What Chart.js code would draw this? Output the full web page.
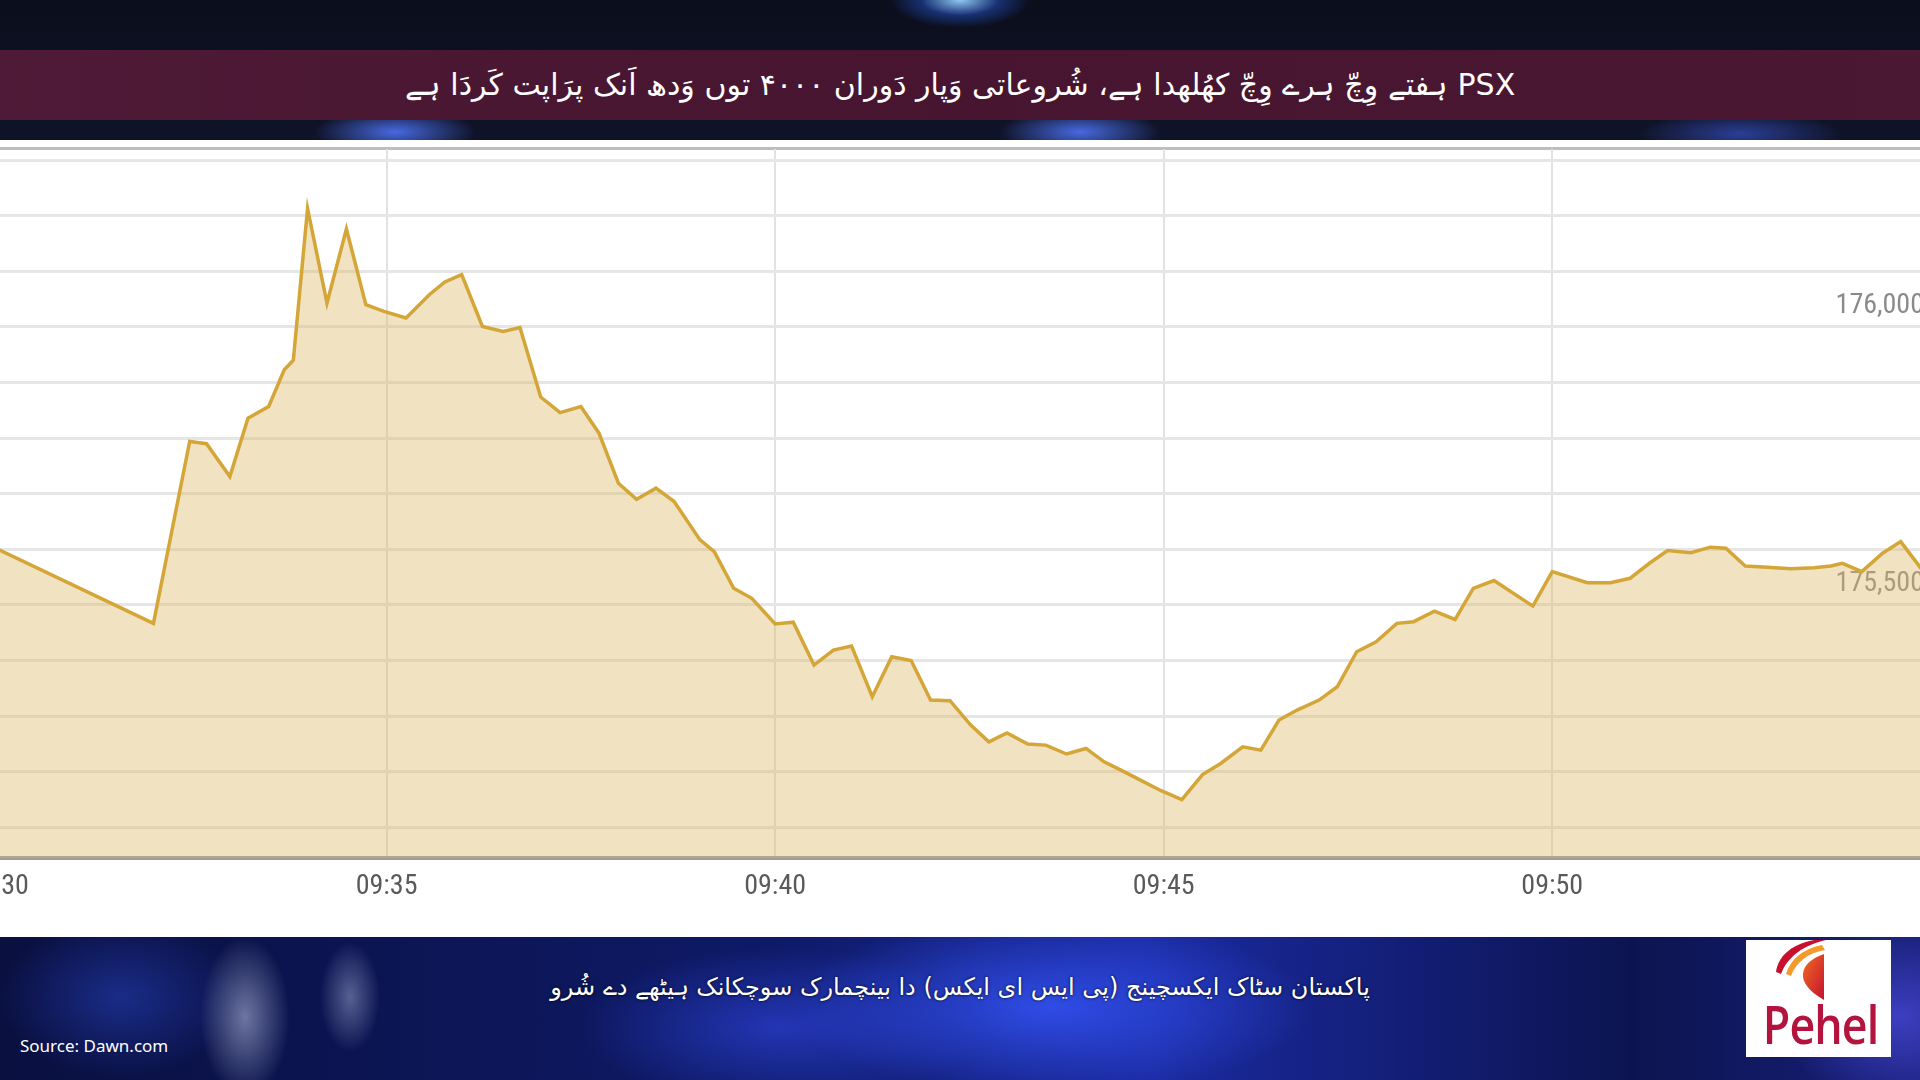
<!DOCTYPE html>
<html>
<head>
<meta charset="utf-8">
<script src="https://cdn.jsdelivr.net/npm/chart.js@4.4.0/dist/chart.umd.min.js"></script>
<style>
  html, body { margin: 0; padding: 0; }
  body {
    width: 1920px; height: 1080px; position: relative; overflow: hidden;
    background: #0b0e1c; font-family: 'Noto Sans', sans-serif;
  }
  #topbg {
    position: absolute; left: 0; top: 0; width: 1920px; height: 140px;
    background:
      radial-gradient(ellipse 70px 28px at 960px 0px, rgba(150,210,255,0.95), rgba(40,90,220,0.45) 55%, rgba(0,0,0,0) 100%),
      radial-gradient(ellipse 80px 24px at 395px 132px, rgba(80,120,255,0.85), rgba(0,0,0,0) 100%),
      radial-gradient(ellipse 80px 24px at 1080px 132px, rgba(80,120,255,0.85), rgba(0,0,0,0) 100%),
      radial-gradient(ellipse 100px 24px at 1740px 134px, rgba(60,90,220,0.6), rgba(0,0,0,0) 100%),
      linear-gradient(#0b0e1b, #10142a);
  }
  #band {
    position: absolute; left: 0; top: 50px; width: 1920px; height: 70px;
    background: linear-gradient(90deg, #4e1a37, #47152f 50%, #4b1834);
    color: #fff; font-family: 'DejaVu Sans', sans-serif; font-size: 30px;
    text-align: center; line-height: 70px;
  }
  #panel { position: absolute; left: 0; top: 140px; width: 1920px; height: 797px; background: #fff; }
  #topline { position: absolute; left: 0; top: 147px; width: 1920px; height: 3px; background: #bdbdbd; }
  #wrap { position: absolute; left: -2px; top: 149px; width: 1926px; height: 769px; }
  #bottom {
    position: absolute; left: 0; top: 937px; width: 1920px; height: 143px;
    background:
      radial-gradient(ellipse 45px 80px at 245px 80px, rgba(190,200,230,0.55), rgba(0,0,0,0) 100%),
      radial-gradient(ellipse 30px 55px at 350px 60px, rgba(180,190,225,0.45), rgba(0,0,0,0) 100%),
      radial-gradient(ellipse 260px 90px at 1050px 70px, rgba(50,80,240,0.9), rgba(0,0,0,0) 100%),
      radial-gradient(ellipse 200px 80px at 780px 90px, rgba(40,60,200,0.8), rgba(0,0,0,0) 100%),
      radial-gradient(ellipse 120px 90px at 1900px 80px, rgba(70,70,210,0.8), rgba(0,0,0,0) 100%),
      radial-gradient(ellipse 120px 80px at 120px 60px, rgba(40,70,200,0.5), rgba(0,0,0,0) 100%),
      linear-gradient(90deg, #0a1040, #0e1a66 40%, #1a2aa0 60%, #0c1450 85%, #18207a);
  }
  #bottomtext {
    position: absolute; left: 0; top: 937px; width: 1920px; height: 100px;
    color: #fff; font-family: 'DejaVu Sans', sans-serif; font-size: 24px;
    text-align: center; line-height: 100px; text-shadow: 0 0 3px #000;
  }
  #source {
    position: absolute; left: 20px; top: 1034px; color: #fff;
    font-family: 'Noto Sans', sans-serif; font-size: 17px;
  }
  #logo { position: absolute; left: 1746px; top: 940px; width: 145px; height: 117px; background: #fff; }
  #logo .word {
    position: absolute; left: 8px; top: 48px; width: 125px; text-align: center;
    font-family: 'Open Sans', sans-serif; font-weight: 600; font-size: 52px; color: #b3133d;
    transform: scaleX(0.86); letter-spacing: -1px;
  }
</style>
</head>
<body>
<div id="topbg"></div>
<div id="band" dir="rtl">PSX ہفتے وِچّ ہرے وِچّ کھُلھدا ہے، شُروعاتی وَپار دَوران ۴۰۰۰ توں وَدھ اَنک پرَاپت کَردَا ہے</div>
<div id="panel"></div>
<div id="topline"></div>
<div id="wrap"><canvas id="kse" width="1926" height="769"></canvas></div>
<div id="bottom"></div>
<div id="bottomtext" dir="rtl">پاکستان سٹاک ایکسچینج (پی ایس ای ایکس) دا بینچمارک سوچکانک ہیٹھے دے شُرو</div>
<div id="source">Source: Dawn.com</div>
<div id="logo">
  <svg width="145" height="60" style="position:absolute;left:0;top:0">
    <defs>
      <linearGradient id="fl" x1="0" y1="0" x2="1" y2="1">
        <stop offset="0" stop-color="#f26b21"/>
        <stop offset="1" stop-color="#c41230"/>
      </linearGradient>
    </defs>
    <path d="M30 32 C32 16 46 4 68 0 L80 0 C58 5 42 16 35 34 Z" fill="#c8102e"/>
    <path d="M40 34 C44 20 56 9 76 5 L79 10 C62 13 50 22 45 36 Z" fill="#f39a2b"/>
    <path d="M78 14 C54 22 46 42 78 60 Z" fill="url(#fl)"/>
  </svg>
  <div class="word">Pehel</div>
</div>
<script>
// KSE-100 intraday (PSX), 09:30 - 09:55
const times = [
  '09:30:00', '09:32:00', '09:32:28', '09:32:41', '09:32:59', '09:33:13', '09:33:29', '09:33:41',
  '09:33:48', '09:33:59', '09:34:14', '09:34:29', '09:34:44', '09:34:58', '09:35:15', '09:35:33',
  '09:35:45', '09:35:58', '09:36:14', '09:36:30', '09:36:43', '09:36:59', '09:37:14', '09:37:30',
  '09:37:44', '09:37:59', '09:38:13', '09:38:28', '09:38:42', '09:39:02', '09:39:13', '09:39:28',
  '09:39:42', '09:40:00', '09:40:14', '09:40:30', '09:40:45', '09:40:59', '09:41:15', '09:41:30',
  '09:41:45', '09:42:00', '09:42:15', '09:42:31', '09:42:45', '09:42:59', '09:43:15', '09:43:29',
  '09:43:45', '09:44:00', '09:44:14', '09:44:27', '09:44:42', '09:44:58', '09:45:14', '09:45:30',
  '09:45:44', '09:46:01', '09:46:15', '09:46:29', '09:46:43', '09:47:00', '09:47:14', '09:47:29',
  '09:47:44', '09:48:00', '09:48:13', '09:48:29', '09:48:45', '09:48:59', '09:49:15', '09:49:45',
  '09:50:00', '09:50:27', '09:50:45', '09:51:00', '09:51:15', '09:51:29', '09:51:47', '09:52:02',
  '09:52:14', '09:52:29', '09:52:46', '09:53:04', '09:53:22', '09:53:35', '09:53:44', '09:53:59',
  '09:54:15', '09:54:29', '09:54:45'
];
const values = [
  175600, 175467, 175794, 175790, 175731, 175836, 175857, 175923,
  175940, 176213, 176043, 176176, 176040, 176028, 176016, 176058,
  176081, 176094, 176001, 175992, 175999, 175874, 175846, 175857,
  175809, 175719, 175690, 175710, 175686, 175617, 175596, 175530,
  175512, 175466, 175469, 175392, 175419, 175426, 175335, 175407,
  175400, 175329, 175328, 175284, 175254, 175270, 175250, 175248,
  175232, 175242, 175218, 175203, 175185, 175166, 175150, 175195,
  175215, 175245, 175239, 175293, 175311, 175329, 175353, 175416,
  175434, 175467, 175470, 175489, 175474, 175530, 175544, 175498,
  175560, 175540, 175540, 175548, 175575, 175598, 175594, 175604,
  175602, 175570, 175568, 175565, 175567, 175570, 175575, 175560,
  175593, 175614, 175565
];
const xTickLabels = ['09:30', '09:35', '09:40', '09:45', '09:50'];
const yTickLabels = [175500, 176000];
const yGridStep = 100;

// seconds after 09:30:00
function toSec(t) {
  const [h, m, s] = t.split(':').map(Number);
  return (h - 9) * 3600 + (m - 30) * 60 + s;
}

const points = times.map((t, i) => ({ x: toSec(t), y: values[i] }));
const labelFont = { family: "'Liberation Sans Narrow', 'Roboto Condensed', Roboto, sans-serif", size: 28 };

const ctx = document.getElementById('kse').getContext('2d');
new Chart(ctx, {
  type: 'line',
  data: {
    datasets: [{
      data: points,
      borderColor: '#d4a638',
      borderWidth: 3.5,
      backgroundColor: 'rgba(220, 183, 100, 0.4)',
      fill: 'start',
      tension: 0,
      pointRadius: 0,
    }],
  },
  options: {
    responsive: false,
    animation: false,
    layout: { padding: 0 },
    plugins: {
      legend: { display: false },
      tooltip: { enabled: false },
    },
    scales: {
      x: {
        type: 'linear',
        bounds: 'data',
        min: 0,
        max: 1487,
        afterBuildTicks: (scale) => {
          scale.ticks = xTickLabels.map((_, i) => ({ value: i * 300 }));
        },
        afterFit: (scale) => {
          scale.paddingLeft = 0;
          scale.paddingRight = 0;
          scale.height = 60;
        },
        ticks: {
          autoSkip: false,
          maxRotation: 0,
          padding: 12,
          color: '#5a5a5a',
          font: labelFont,
          callback: (v) => xTickLabels[Math.round(v / 300)] || '',
        },
        grid: { color: '#e2e2e2', lineWidth: 2, drawTicks: false },
        border: { display: true, color: '#9c9c9c', width: 4 },
      },
      y: {
        position: 'right',
        bounds: 'data',
        min: 175045,
        max: 176320,
        afterBuildTicks: (scale) => {
          const ticks = [];
          for (let v = Math.ceil(scale.min / yGridStep) * yGridStep; v < scale.max; v += yGridStep) {
            ticks.push({ value: v });
          }
          scale.ticks = ticks;
        },
        afterFit: (scale) => {
          scale.paddingTop = 0;
          scale.paddingBottom = 0;
          scale.width = 0;
        },
        ticks: {
          mirror: true,
          padding: 0,
          labelOffset: -21,
          color: '#8a8a8a',
          font: labelFont,
          callback: (v) => yTickLabels.includes(v) ? v.toLocaleString('en-US') : '',
        },
        grid: { color: '#e6e6e6', lineWidth: 3, drawTicks: false },
        border: { display: false },
      },
    },
  },
});
</script>
</body>
</html>
